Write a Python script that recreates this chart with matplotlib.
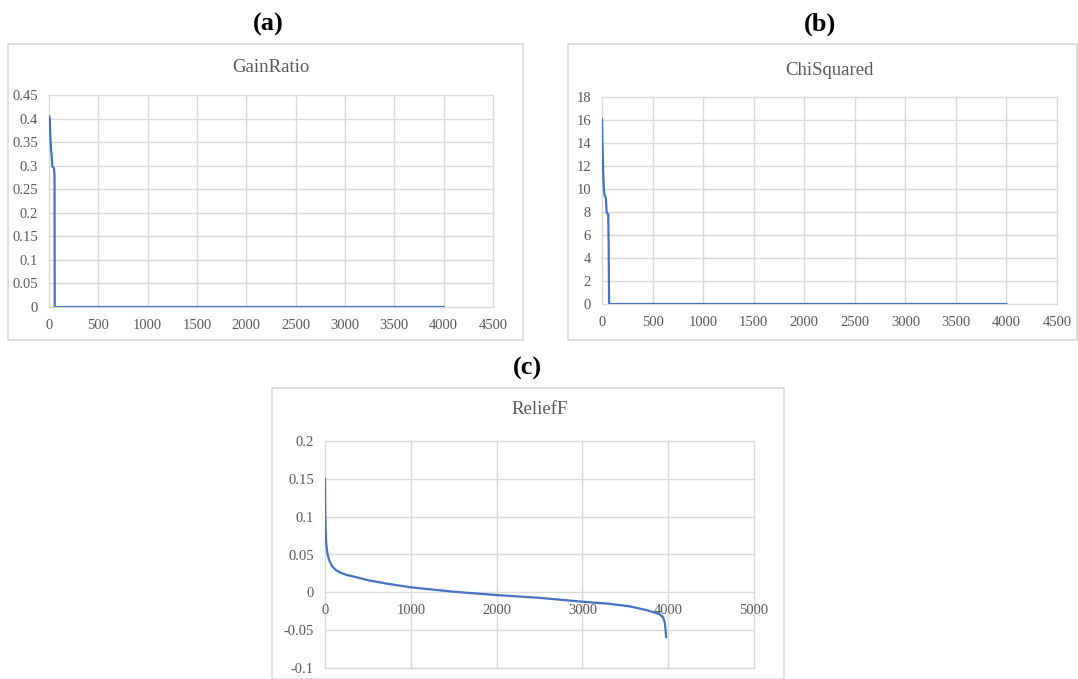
import matplotlib.pyplot as plt
from matplotlib.patches import Rectangle
from matplotlib.ticker import FuncFormatter, MultipleLocator

# feature scores sorted by rank (rank index -> score)
gain_rank = [0, 8, 14, 22, 26, 34, 50, 56, 58, 4000]
gain_score = [0.405, 0.40, 0.36, 0.33, 0.325, 0.298, 0.295, 0.28, 0.0, 0.0]

chi_rank = [0, 3, 10, 18, 25, 28, 38, 46, 50, 62, 66, 70, 4000]
chi_score = [16.1, 14.5, 12.0, 10.0, 9.5, 9.4, 9.2, 8.0, 7.9, 7.8, 5.0, 0.0, 0.0]

relief_rank = [0, 3, 8, 15, 30, 50, 80, 120, 180, 250, 330, 500, 720, 1000,
               1500, 2000, 2500, 3000, 3300, 3550, 3740, 3850, 3900, 3940,
               3960, 3970, 3975]
relief_score = [0.150, 0.105, 0.080, 0.063, 0.050, 0.042, 0.035, 0.030, 0.026,
                0.023, 0.021, 0.016, 0.0115, 0.0066, 0.0008, -0.0036, -0.0073,
                -0.0124, -0.0150, -0.0185, -0.0233, -0.027, -0.029, -0.033,
                -0.040, -0.050, -0.059]

LINE = '#4472C4'
GRID = '#D9D9D9'
TXT = '#595959'
SERIF = ['Liberation Serif', 'DejaVu Serif']

W, H = 1078, 679
fig = plt.figure(figsize=(W / 100, H / 100), dpi=100)


def px_axes(left, top, right, bottom):
    return fig.add_axes([left / W, 1 - bottom / H, (right - left) / W, (bottom - top) / H])


def frame(left, top, right, bottom):
    fig.patches.append(Rectangle((left / W, 1 - bottom / H), (right - left) / W,
                                 (bottom - top) / H, transform=fig.transFigure,
                                 fill=False, edgecolor=GRID, lw=1.2))


def style(ax, xmax, xstep, ymin, ymax, ystep, title, title_y, xpad):
    ax.set_xlim(0, xmax)
    ax.set_ylim(ymin, ymax)
    ax.xaxis.set_major_locator(MultipleLocator(xstep))
    ax.yaxis.set_major_locator(MultipleLocator(ystep))
    fmt = FuncFormatter(lambda v, p: f'{round(v, 4):g}')
    ax.xaxis.set_major_formatter(fmt)
    ax.yaxis.set_major_formatter(fmt)
    for s in ax.spines.values():
        s.set_visible(False)
    ax.grid(True, color=GRID, lw=1.0)
    for gl in ax.get_xgridlines() + ax.get_ygridlines():
        gl.set_clip_on(False)
    ax.set_axisbelow(True)
    ax.tick_params(length=0, labelcolor=TXT, labelsize=10.5)
    ax.tick_params(axis='y', pad=8)
    ax.tick_params(axis='x', pad=xpad)
    for lab in ax.get_xticklabels() + ax.get_yticklabels():
        lab.set_family(SERIF)
    ax.text(0.5, title_y, title, transform=ax.transAxes, ha='center', va='center',
            fontsize=13.5, color=TXT, family=SERIF)


# (a) GainRatio
frame(8, 44, 523, 340)
ax1 = px_axes(49, 95, 493, 307)
ax1.plot(gain_rank, gain_score, color=LINE, lw=1.6)
style(ax1, 4500, 500, 0, 0.45, 0.05, 'GainRatio', 1.128, 8.5)

# (b) ChiSquared
frame(568, 44, 1077, 340)
ax2 = px_axes(602, 97, 1057, 304)
ax2.plot(chi_rank, chi_score, color=LINE, lw=1.6)
style(ax2, 4500, 500, 0, 18, 2, 'ChiSquared', 1.13, 8.5)

# (c) ReliefF
frame(272, 388, 784, 679)
ax3 = px_axes(325, 441, 754, 668)
ax3.plot(relief_rank, relief_score, color=LINE, lw=1.6)
ax3.spines['bottom'].set_position(('data', 0))
style(ax3, 5000, 1000, -0.1, 0.2, 0.05, 'ReliefF', 1.14, 8.5)

for label, x, y in [('(a)', 268, 24), ('(b)', 820, 24), ('(c)', 527, 368)]:
    fig.text(x / W, 1 - y / H, label, ha='center', va='center', fontsize=19,
             fontweight='bold', family=SERIF, color='black')

fig.savefig('out.png', dpi=100, facecolor='white')
